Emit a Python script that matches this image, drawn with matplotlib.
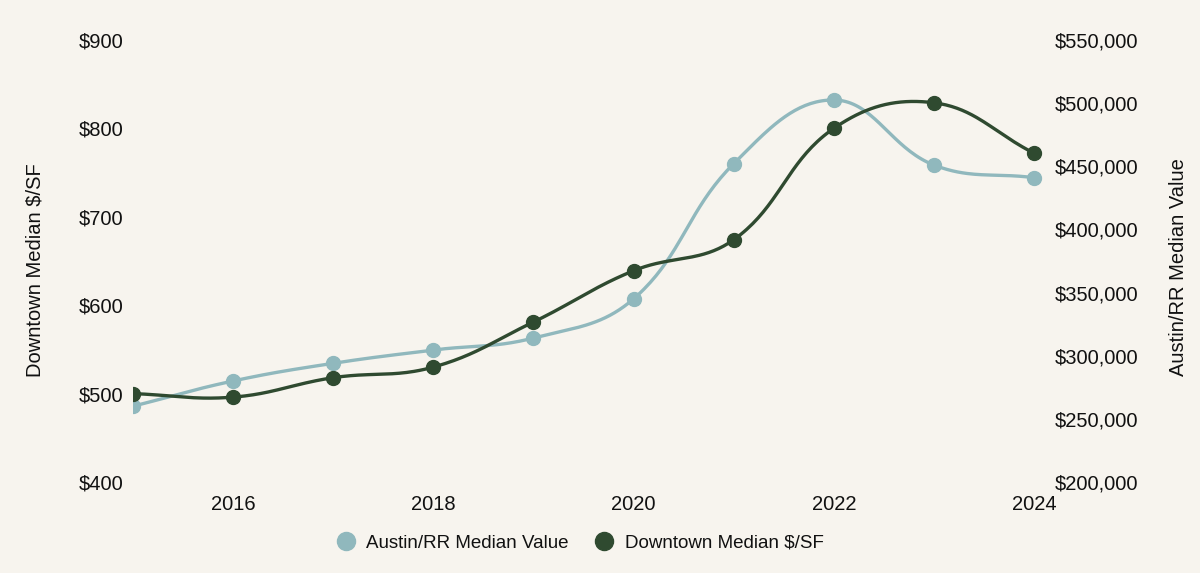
import numpy as np
import matplotlib
matplotlib.use("Agg")
import matplotlib.pyplot as plt
from matplotlib.lines import Line2D
from matplotlib.patches import Rectangle

years = [2015, 2016, 2017, 2018, 2019, 2020, 2021, 2022, 2023, 2024]
downtown_psf = [500, 496, 518, 530, 581, 639, 674, 800, 829, 772]
austin_value = [260000, 280000, 294000, 304500, 314000, 345000, 452000, 502500, 451000, 441000]
left_ticks = [400, 500, 600, 700, 800, 900]
right_ticks = [200000, 250000, 300000, 350000, 400000, 450000, 500000, 550000]
x_ticks = [2016, 2018, 2020, 2022, 2024]

BG = "#f7f4ee"
LIGHT = "#90b8bd"
DARK = "#2f4a30"
TXT = "#111111"
FONT = ["Liberation Sans", "DejaVu Sans"]
plt.rcParams["font.family"] = FONT
FS = 14.5

W, H = 1200, 573
fig = plt.figure(figsize=(12, 5.73), dpi=100, facecolor=BG)
ax = fig.add_axes([133 / W, (H - 482) / H, (1034 - 133) / W, (482 - 40) / H])
ax.set_facecolor(BG)
ax2 = ax.twinx()
ax2.patch.set_visible(False)

ax.set_xlim(2015, 2024)
ax.set_ylim(400, 900)
ax2.set_ylim(200000, 550000)


def chartjs_spline(axis, xs, ys, tension=0.4, n=40):
    pts = axis.transData.transform(np.column_stack([xs, ys]))
    m = len(pts)
    out = []
    cps = []
    for i in range(m):
        prev = pts[i - 1] if i > 0 else pts[i]
        cur = pts[i]
        nxt = pts[i + 1] if i < m - 1 else pts[i]
        d01 = np.hypot(*(cur - prev))
        d12 = np.hypot(*(nxt - cur))
        s01 = d01 / (d01 + d12) if (d01 + d12) else 0
        s12 = d12 / (d01 + d12) if (d01 + d12) else 0
        fa = tension * s01
        fb = tension * s12
        cps.append((cur - fa * (nxt - prev), cur + fb * (nxt - prev)))
    t = np.linspace(0, 1, n)[:, None]
    for i in range(m - 1):
        p0 = pts[i]
        p1 = cps[i][1]
        p2 = cps[i + 1][0]
        p3 = pts[i + 1]
        seg = ((1 - t) ** 3) * p0 + 3 * ((1 - t) ** 2) * t * p1 + 3 * (1 - t) * t ** 2 * p2 + t ** 3 * p3
        out.append(seg if i == 0 else seg[1:])
    curve = np.vstack(out)
    return axis.transData.inverted().transform(curve)

clip = Rectangle((0, -0.1), 1.05, 1.2, transform=ax.transAxes, visible=False)
fig.add_artist(clip)

lc = chartjs_spline(ax2, years, austin_value)
l1, = ax2.plot(lc[:, 0], lc[:, 1], color=LIGHT, lw=2.4, solid_capstyle="round")
m1, = ax2.plot(years, austin_value, "o", color=LIGHT, ms=10, mec=LIGHT)
dc = chartjs_spline(ax, years, downtown_psf)
l2, = ax.plot(dc[:, 0], dc[:, 1], color=DARK, lw=2.4, solid_capstyle="round")
m2, = ax.plot(years, downtown_psf, "o", color=DARK, ms=10, mec=DARK)
for a in (l1, m1, l2, m2):
    a.set_clip_path(clip)

ax.set_zorder(2)
ax2.set_zorder(1)
ax.patch.set_visible(False)
fig.patch.set_facecolor(BG)

for a in (ax, ax2):
    for s in a.spines.values():
        s.set_visible(False)

ax.set_xticks(x_ticks)
ax.set_xticklabels([str(x) for x in x_ticks])
ax.set_yticks(left_ticks)
ax.set_yticklabels([f"${v:,}" for v in left_ticks])
ax2.set_yticks(right_ticks)
ax2.set_yticklabels([f"${v:,}" for v in right_ticks])
ax.tick_params(axis="both", length=0, labelsize=FS, labelcolor=TXT)
ax.tick_params(axis="y", pad=7)
ax.tick_params(axis="x", pad=9)
ax2.tick_params(axis="y", length=0, labelsize=FS, labelcolor=TXT, pad=15)

fig.text(35 / W, 1 - 270 / H, "Downtown Median $/SF", rotation=90, ha="center", va="center",
         fontsize=FS, color=TXT)
fig.text(1179 / W, 1 - 267 / H, "Austin/RR Median Value", rotation=90, ha="center", va="center",
         fontsize=FS, color=TXT)

handles = [
    Line2D([], [], ls="none", marker="o", ms=13, color=LIGHT, mec=LIGHT),
    Line2D([], [], ls="none", marker="o", ms=13, color=DARK, mec=DARK),
]
fig.legend(handles, ["Austin/RR Median Value", "Downtown Median $/SF"], loc="center",
           bbox_to_anchor=(579 / W, 1 - 543 / H), ncol=2, frameon=False, fontsize=13.5,
           handletextpad=0.5, columnspacing=1.3, handlelength=1.2, labelcolor=TXT)

fig.savefig("out.png", dpi=100, facecolor=BG)
